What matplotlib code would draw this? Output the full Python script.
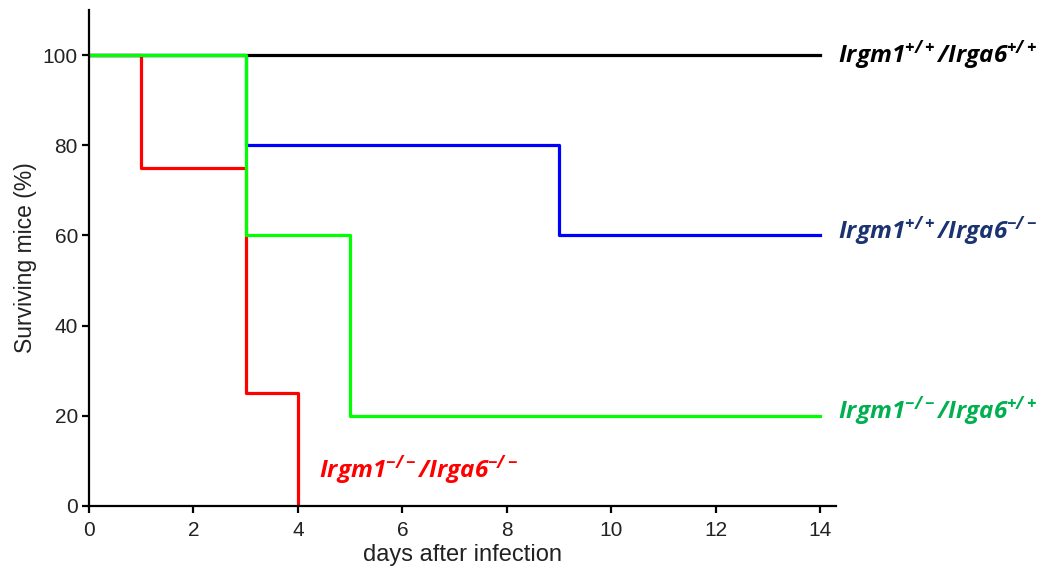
import matplotlib.pyplot as plt

plt.rcParams['mathtext.fontset'] = 'custom'
plt.rcParams['mathtext.rm'] = 'Open Sans:italic:bold'
plt.rcParams['mathtext.it'] = 'Open Sans:italic:bold'
plt.rcParams['mathtext.bf'] = 'Open Sans:italic:bold'

# survival data (day, % surviving)
wt_days = [0, 14]
wt_surv = [100, 100]
a6ko_days = [0, 3, 9, 14]
a6ko_surv = [100, 80, 60, 60]
m1ko_days = [0, 3, 5, 14]
m1ko_surv = [100, 60, 20, 20]
dko_days = [0, 1, 3, 4]
dko_surv = [100, 75, 25, 0]

labels = [r'$Irgm1^{+/+}/Irga6^{+/+}$', r'$Irgm1^{+/+}/Irga6^{-/-}$',
          r'$Irgm1^{-/-}/Irga6^{+/+}$', r'$Irgm1^{-/-}/Irga6^{-/-}$']

fig = plt.figure(figsize=(10.46, 5.72), dpi=100)
ax = fig.add_axes([0.0851, 0.1154, 0.7139, 0.8671])

lw = 2.3
ax.plot(dko_days, dko_surv, drawstyle='steps-post', color='#ff0000', lw=lw)
ax.plot(a6ko_days, a6ko_surv, drawstyle='steps-post', color='#0000ff', lw=lw)
ax.plot(wt_days, wt_surv, drawstyle='steps-post', color='black', lw=lw)
ax.plot(m1ko_days, m1ko_surv, drawstyle='steps-post', color='#00ff00', lw=lw)

ax.set_xlim(0, 14.3)
ax.set_ylim(0, 110)
ax.set_xticks(range(0, 15, 2))
ax.set_yticks(range(0, 101, 20))
for s in ['top', 'right']:
    ax.spines[s].set_visible(False)
for s in ['left', 'bottom']:
    ax.spines[s].set_linewidth(1.6)
ax.tick_params(width=1.6, length=5, labelsize=15, direction='out', pad=3)
ax.tick_params(axis='x', pad=6)
for t in ax.get_xticklabels() + ax.get_yticklabels():
    t.set_family('Liberation Sans')
    t.set_color('#222222')

ax.set_xlabel('days after infection', fontsize=17, family='Liberation Sans',
              labelpad=3, color='#222222')
ax.set_ylabel('Surviving mice (%)', fontsize=16.5, family='Liberation Sans',
              labelpad=4, color='#222222')

kw = dict(fontsize=17.5, va='center', ha='left', clip_on=False)
ax.text(14.35, 100, labels[0], color='black', **kw)
ax.text(14.35, 61, labels[1], color='#1b3370', **kw)
ax.text(14.35, 21, labels[2], color='#00b050', **kw)
ax.text(4.4, 8, labels[3], color='#ff0000', **kw)

fig.savefig('out.png', dpi=100)
